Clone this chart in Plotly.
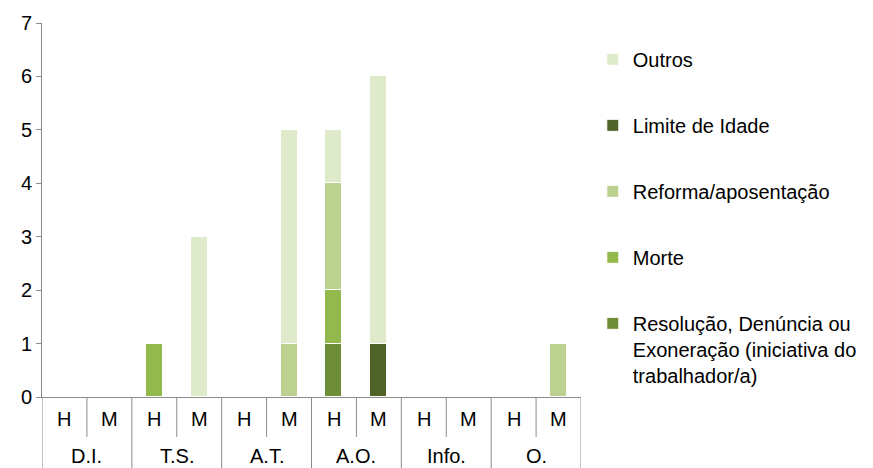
import plotly.graph_objects as go

groups = ["D.I.", "T.S.", "A.T.", "A.O.", "Info.", "O."]
sexes = ["H", "M"]

series_names = [
    "Resolução, Denúncia ou<br>Exoneração (iniciativa do<br>trabalhador/a)",
    "Morte",
    "Reforma/aposentação",
    "Limite de Idade",
    "Outros",
]
series_colors = ["#6f8c37", "#93b84c", "#bcd18f", "#4f6228", "#dfeacb"]

# order: D.I.H, D.I.M, T.S.H, T.S.M, A.T.H, A.T.M, A.O.H, A.O.M, Info.H, Info.M, O.H, O.M
resolucao = [0, 0, 0, 0, 0, 0, 1, 0, 0, 0, 0, 0]
morte     = [0, 0, 1, 0, 0, 0, 1, 0, 0, 0, 0, 0]
reforma   = [0, 0, 0, 0, 0, 1, 2, 0, 0, 0, 0, 1]
limite    = [0, 0, 0, 0, 0, 0, 0, 1, 0, 0, 0, 0]
outros    = [0, 0, 0, 3, 0, 4, 1, 5, 0, 0, 0, 0]
series_values = [resolucao, morte, reforma, limite, outros]

n = len(groups) * len(sexes)
xs = list(range(n))

fig = go.Figure()
k = len(series_names)
for idx, (name, color, vals) in enumerate(zip(series_names, series_colors, series_values)):
    fig.add_trace(go.Bar(
        x=xs, y=vals, name=name, legendgroup=name, legendrank=k - idx,
        marker=dict(color=color, line=dict(color="white", width=1)),
        width=0.38,
    ))

font = dict(family="Liberation Sans, Arial, sans-serif", size=20, color="#000000")

annotations = []
shapes = []
row1_bottom = -0.107
row2_bottom = -0.20
for i in range(n):
    annotations.append(dict(x=i, y=-0.059, xref="x", yref="paper",
                            text=sexes[i % 2], showarrow=False, font=font,
                            xanchor="center", yanchor="middle"))
for g, gname in enumerate(groups):
    annotations.append(dict(x=g * 2 + 0.5, y=-0.157, xref="x", yref="paper",
                            text=gname, showarrow=False, font=font,
                            xanchor="center", yanchor="middle"))
for b in range(n + 1):
    bottom = row2_bottom if b % 2 == 0 else row1_bottom
    shapes.append(dict(type="line", xref="x", yref="paper", x0=b - 0.5, x1=b - 0.5,
                       y0=0, y1=bottom, line=dict(color="#8c8c8c", width=1)))

fig.update_layout(
    barmode="stack",
    width=873, height=468,
    margin=dict(l=42, r=291, t=23, b=71),
    plot_bgcolor="white", paper_bgcolor="white",
    font=font,
    showlegend=True,
    legend=dict(x=1.02, y=0.955, xanchor="left", yanchor="top",
                traceorder="grouped", tracegroupgap=37,
                valign="top", font=font, itemwidth=30),
    xaxis=dict(range=[-0.5, n - 0.5], showticklabels=False, ticks="",
               showline=True, linecolor="#8c8c8c", linewidth=1, showgrid=False,
               zeroline=False),
    yaxis=dict(range=[0, 7], dtick=1, showline=True, linecolor="#8c8c8c", linewidth=1,
               ticks="outside", ticklen=5, tickcolor="#8c8c8c", showgrid=False,
               zeroline=False, tickfont=font),
    annotations=annotations,
    shapes=shapes,
    bargap=0,
)

fig.write_html("out.html")
